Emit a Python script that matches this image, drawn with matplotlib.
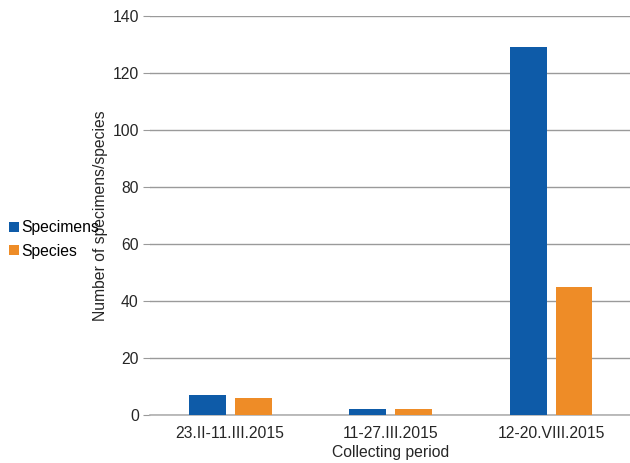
import numpy as np
import matplotlib
matplotlib.use("Agg")
import matplotlib.pyplot as plt

plt.rcParams['font.family'] = ['Liberation Sans', 'DejaVu Sans']

periods = ["23.II-11.III.2015", "11-27.III.2015", "12-20.VIII.2015"]
specimens = [7, 2, 129]
species = [6, 2, 45]

blue = "#0E5BA8"
orange = "#EE8C27"
txt = "#262626"
fs = 11.3

fig = plt.figure(figsize=(6.3, 4.63), dpi=100)
ax = fig.add_axes([0.238, 0.1037, 0.764, 0.8617])

x = np.arange(len(periods))
w = 0.23
off = 0.143
ax.bar(x - off, specimens, w, color=blue, label="Specimens", zorder=3)
ax.bar(x + off, species, w, color=orange, label="Species", zorder=3)

ax.set_xlim(-0.5, 2.5)
ax.set_ylim(0, 140)
ax.set_yticks(range(0, 141, 20))
ax.set_xticks(x)
ax.set_xticklabels(periods)

ax.yaxis.grid(True, color="#9a9a9a", linewidth=1, zorder=0)
for side in ["top", "right", "left"]:
    ax.spines[side].set_visible(False)
ax.spines["bottom"].set_color("#b0b0b0")
ax.spines["bottom"].set_linewidth(1.2)
ax.tick_params(axis="y", length=5, color="#9a9a9a", labelsize=fs, labelcolor=txt, pad=3)
ax.tick_params(axis="x", length=0, labelsize=fs, labelcolor=txt, pad=8)

ax.set_xlabel("Collecting period", fontsize=fs, color=txt, labelpad=3)
ax.set_ylabel("Number of specimens/species", fontsize=fs, color=txt)
ax.yaxis.set_label_coords(-0.087, 0.5)

fig.legend(loc="upper left", bbox_to_anchor=(0.0, 0.545), frameon=False,
           fontsize=fs, handlelength=0.6, handleheight=0.6, handletextpad=0.15,
           labelspacing=0.55, borderaxespad=0.2)

fig.savefig("out.png", dpi=100)
